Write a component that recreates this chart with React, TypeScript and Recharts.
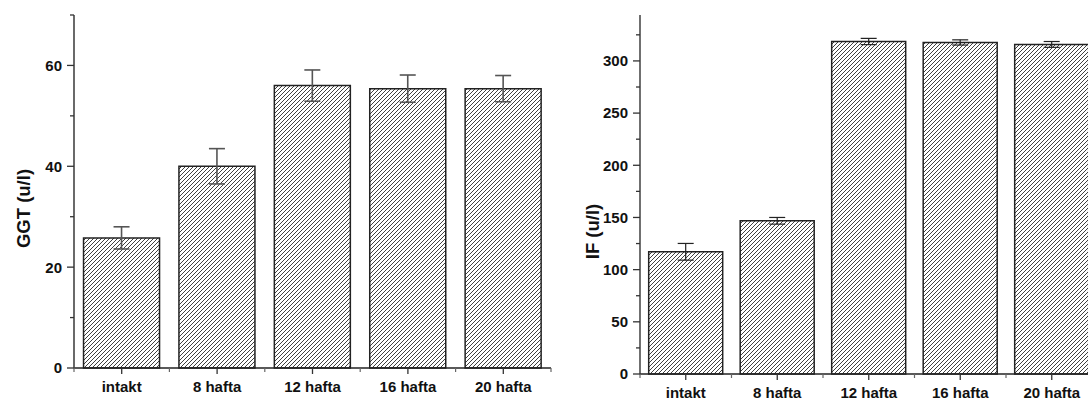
import { BarChart, Bar, XAxis, YAxis, ErrorBar } from "recharts";

const categories = ["intakt", "8 hafta", "12 hafta", "16 hafta", "20 hafta"];
const ggtValues = [25.8, 40.0, 56.0, 55.4, 55.4];
const ggtErrors = [2.2, 3.5, 3.1, 2.7, 2.6];
const ifValues = [117.1, 146.8, 318.6, 317.7, 315.8];
const ifErrors = [8.0, 3.2, 3.0, 2.5, 2.8];

const ggtTicks = [0, 10, 20, 30, 40, 50, 60, 70];
const ggtLabels = [0, 20, 40, 60];
const ifTicks = [0, 25, 50, 75, 100, 125, 150, 175, 200, 225, 250, 275, 300, 325];
const ifLabels = [0, 50, 100, 150, 200, 250, 300];

const FONT = "'Liberation Sans', Arial, sans-serif";

const ggtData = categories.map((name, i) => ({ name, value: ggtValues[i], err: ggtErrors[i] }));
const ifData = categories.map((name, i) => ({ name, value: ifValues[i], err: ifErrors[i] }));

function makeYTick(labels: number[]) {
  // eslint-disable-next-line @typescript-eslint/no-explicit-any
  return (props: any) => {
    const { x, y, payload } = props;
    const major = labels.includes(payload.value);
    return (
      <g>
        <line x1={x} x2={x - (major ? 7 : 4)} y1={y} y2={y} stroke="#333" strokeWidth={1.3} />
        {major && (
          <text x={x - 12} y={y} dy="0.36em" textAnchor="end" fontFamily={FONT} fontWeight="bold" fontSize={15} fill="#111">
            {payload.value}
          </text>
        )}
      </g>
    );
  };
}

// eslint-disable-next-line @typescript-eslint/no-explicit-any
function XTick(props: any) {
  const { x, y, payload, index } = props;
  const off = payload.offset || 0;
  return (
    <g>
      <line x1={x} x2={x} y1={y} y2={y + 6} stroke="#333" strokeWidth={1.3} />
      <line x1={x + off} x2={x + off} y1={y} y2={y + 4} stroke="#666" strokeWidth={1.2} />
      {index === 0 && <line x1={x - off} x2={x - off} y1={y} y2={y + 4} stroke="#666" strokeWidth={1.2} />}
      <text x={x} y={y + 23.5} textAnchor="middle" fontFamily={FONT} fontWeight="bold" fontSize={15} fill="#111">
        {payload.value}
      </text>
    </g>
  );
}

function Hatch({ id }: { id: string }) {
  return (
    <defs>
      <pattern id={id} patternUnits="userSpaceOnUse" width={4} height={4}>
        <rect width={4} height={4} fill="#fff" />
        <path d="M-1,1 L1,-1 M0,4 L4,0 M3,5 L5,3" stroke="#2a2a2a" strokeWidth={0.9} />
      </pattern>
    </defs>
  );
}

function yLabel(text: string, dx: number, dy: number, size: number) {
  // eslint-disable-next-line @typescript-eslint/no-explicit-any
  return (props: any) => {
    const vb = props.viewBox || {};
    const cx = vb.x + dx;
    const cy = vb.y + vb.height / 2 + dy;
    return (
      <text
        x={cx}
        y={cy}
        transform={`rotate(-90, ${cx}, ${cy})`}
        textAnchor="middle"
        dominantBaseline="central"
        fontFamily={FONT}
        fontWeight="bold"
        fontSize={size}
        fill="#111"
      >
        {text}
      </text>
    );
  };
}

export default function App() {
  return (
    <div style={{ position: "fixed", top: 0, left: 0, width: 1088, height: 399, overflow: "hidden", background: "#fff" }}>
      <div style={{ position: "absolute", left: 0, top: 0 }}>
        <BarChart width={560} height={399} data={ggtData} margin={{ top: 15, right: 9, left: 0, bottom: 0 }} barCategoryGap="10%">
          <Hatch id="hatchL" />
          <XAxis dataKey="name" height={31} tickSize={0} tickMargin={0} tickLine={false} axisLine={{ stroke: "#222", strokeWidth: 1.5 }} tick={<XTick />} interval={0} />
          <YAxis
            width={74}
            domain={[0, 70]}
            ticks={ggtTicks}
            interval={0}
            tickSize={0}
            tickMargin={0}
            tickLine={false}
            axisLine={{ stroke: "#444", strokeWidth: 1.6 }}
            tick={makeYTick(ggtLabels)}
            label={yLabel("GGT (u/l)", 23, 17, 18.5)}
          />
          <Bar dataKey="value" fill="url(#hatchL)" stroke="#222" strokeWidth={1.5} isAnimationActive={false}>
            <ErrorBar dataKey="err" width={8} stroke="#555" strokeWidth={1.6} />
          </Bar>
        </BarChart>
      </div>
      <div style={{ position: "absolute", left: 560, top: 0 }}>
        <BarChart width={540} height={399} data={ifData} margin={{ top: 15, right: 2.5, left: 0, bottom: 0 }} barCategoryGap="9.5%">
          <Hatch id="hatchR" />
          <XAxis dataKey="name" height={25} tickSize={0} tickMargin={0} tickLine={false} axisLine={{ stroke: "#222", strokeWidth: 1.5 }} tick={<XTick />} interval={0} />
          <YAxis
            width={80}
            domain={[0, 344]}
            ticks={ifTicks}
            interval={0}
            tickSize={0}
            tickMargin={0}
            tickLine={false}
            axisLine={{ stroke: "#333", strokeWidth: 1.4 }}
            tick={makeYTick(ifLabels)}
            label={yLabel("IF (u/l)", 32, 37, 18.5)}
          />
          <Bar dataKey="value" fill="url(#hatchR)" stroke="#222" strokeWidth={1.5} isAnimationActive={false}>
            <ErrorBar dataKey="err" width={8} stroke="#222" strokeWidth={1.2} />
          </Bar>
        </BarChart>
      </div>
    </div>
  );
}
